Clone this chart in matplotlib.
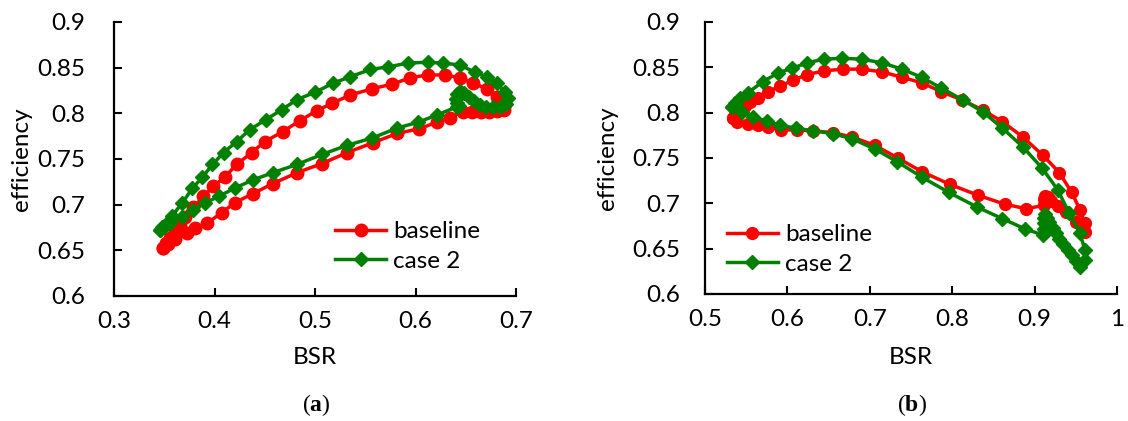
import matplotlib
matplotlib.use("Agg")
import matplotlib.pyplot as plt

# ---------------- data (a) ----------------
a_base_x = [0.349, 0.352, 0.356, 0.361, 0.366, 0.371, 0.379, 0.389, 0.399, 0.410, 0.422, 0.437,
            0.450, 0.468, 0.485, 0.502, 0.517, 0.535, 0.557, 0.577, 0.595, 0.612, 0.629, 0.644,
            0.657, 0.671, 0.681, 0.689, 0.688, 0.681, 0.673, 0.665, 0.656, 0.647, 0.634, 0.621,
            0.603, 0.582, 0.558, 0.532, 0.507, 0.482, 0.458, 0.438, 0.420, 0.407, 0.393, 0.381,
            0.373, 0.361, 0.354, 0.349]
a_base_y = [0.653, 0.658, 0.664, 0.671, 0.678, 0.686, 0.697, 0.709, 0.720, 0.730, 0.744, 0.757,
            0.769, 0.780, 0.792, 0.803, 0.811, 0.820, 0.827, 0.832, 0.839, 0.842, 0.842, 0.839,
            0.833, 0.827, 0.818, 0.810, 0.804, 0.803, 0.802, 0.802, 0.802, 0.802, 0.795, 0.790,
            0.783, 0.778, 0.768, 0.757, 0.745, 0.735, 0.723, 0.712, 0.702, 0.691, 0.680, 0.674,
            0.669, 0.662, 0.657, 0.653]

a_case_x = [0.346, 0.350, 0.354, 0.358, 0.368, 0.378, 0.388, 0.398, 0.409, 0.422, 0.435, 0.451,
            0.467, 0.482, 0.500, 0.518, 0.535, 0.555, 0.573, 0.593, 0.612, 0.627, 0.644, 0.659,
            0.671, 0.681, 0.689, 0.692, 0.690, 0.684, 0.677, 0.670, 0.664, 0.658, 0.653, 0.648,
            0.644, 0.641, 0.640, 0.641, 0.643, 0.641, 0.621, 0.602, 0.582, 0.557, 0.532, 0.507,
            0.482, 0.458, 0.438, 0.420, 0.404, 0.391, 0.379, 0.368, 0.356, 0.348, 0.346]
a_case_y = [0.672, 0.676, 0.681, 0.688, 0.702, 0.718, 0.730, 0.744, 0.757, 0.769, 0.782, 0.793,
            0.804, 0.815, 0.823, 0.833, 0.840, 0.848, 0.851, 0.855, 0.856, 0.855, 0.853, 0.845,
            0.840, 0.833, 0.823, 0.817, 0.810, 0.807, 0.807, 0.807, 0.809, 0.813, 0.818, 0.822,
            0.824, 0.821, 0.816, 0.811, 0.808, 0.807, 0.798, 0.790, 0.784, 0.773, 0.765, 0.755,
            0.744, 0.735, 0.727, 0.718, 0.709, 0.702, 0.694, 0.687, 0.680, 0.675, 0.672]

# ---------------- data (b) ----------------
b_base_x = [0.534, 0.537, 0.542, 0.548, 0.555, 0.564, 0.576, 0.591, 0.607, 0.624, 0.644, 0.667,
            0.690, 0.715, 0.739, 0.763, 0.787, 0.812, 0.837, 0.861, 0.886, 0.910, 0.930, 0.945,
            0.955, 0.961, 0.961, 0.950, 0.938, 0.928, 0.920, 0.916, 0.913, 0.912, 0.913, 0.912,
            0.890, 0.864, 0.831, 0.797, 0.763, 0.734, 0.706, 0.679, 0.655, 0.631, 0.612, 0.592,
            0.576, 0.564, 0.552, 0.539, 0.534]
b_base_y = [0.794, 0.798, 0.803, 0.807, 0.812, 0.816, 0.823, 0.829, 0.836, 0.842, 0.846, 0.848,
            0.848, 0.845, 0.839, 0.833, 0.823, 0.814, 0.803, 0.790, 0.773, 0.753, 0.734, 0.712,
            0.693, 0.678, 0.668, 0.679, 0.690, 0.697, 0.703, 0.707, 0.708, 0.705, 0.701, 0.698,
            0.694, 0.699, 0.709, 0.721, 0.735, 0.750, 0.764, 0.773, 0.778, 0.780, 0.781, 0.781,
            0.784, 0.786, 0.788, 0.790, 0.794]

b_case_x = [0.533, 0.537, 0.542, 0.552, 0.570, 0.589, 0.606, 0.624, 0.644, 0.666, 0.690, 0.715,
            0.739, 0.763, 0.787, 0.813, 0.837, 0.861, 0.886, 0.909, 0.928, 0.942, 0.955, 0.961,
            0.961, 0.955, 0.950, 0.945, 0.940, 0.935, 0.930, 0.926, 0.922, 0.918, 0.915, 0.913,
            0.912, 0.912, 0.912, 0.911, 0.910, 0.888, 0.861, 0.830, 0.796, 0.763, 0.733, 0.706,
            0.679, 0.655, 0.631, 0.610, 0.591, 0.575, 0.558, 0.545, 0.533]
b_case_y = [0.806, 0.811, 0.816, 0.822, 0.834, 0.844, 0.849, 0.855, 0.859, 0.860, 0.859, 0.855,
            0.848, 0.839, 0.827, 0.814, 0.801, 0.783, 0.762, 0.739, 0.715, 0.689, 0.667, 0.649,
            0.638, 0.630, 0.636, 0.643, 0.649, 0.655, 0.661, 0.667, 0.673, 0.679, 0.684, 0.688,
            0.684, 0.678, 0.672, 0.667, 0.665, 0.672, 0.683, 0.696, 0.712, 0.729, 0.746, 0.760,
            0.771, 0.777, 0.780, 0.783, 0.786, 0.791, 0.795, 0.801, 0.806]

labels = ["baseline", "case 2"]
colors = ["#FF0000", "#008000"]
font = "Lato"
FS = 17.5

plt.rcParams["font.family"] = [font, "DejaVu Sans"]
plt.rcParams["mathtext.fontset"] = "custom"
plt.rcParams["mathtext.bf"] = "Liberation Serif:bold"
plt.rcParams["mathtext.rm"] = "Liberation Serif"

fig = plt.figure(figsize=(11.28, 4.21), dpi=100)
axa = fig.add_axes([114 / 1128, 1 - 296 / 421, 402 / 1128, 274 / 421])
axb = fig.add_axes([705 / 1128, 1 - 294 / 421, 412 / 1128, 272 / 421])


def style(ax, xlim, xticks, xticklabels, leg_anchor, xlab_y, ylab_x, ypad):
    ax.set_xlim(*xlim)
    ax.set_ylim(0.6, 0.9)
    ax.set_xticks(xticks)
    ax.set_xticklabels(xticklabels)
    yt = [0.6, 0.65, 0.7, 0.75, 0.8, 0.85, 0.9]
    ax.set_yticks(yt)
    ax.set_yticklabels(["0.6", "0.65", "0.7", "0.75", "0.8", "0.85", "0.9"])
    for s in ["top", "right"]:
        ax.spines[s].set_visible(False)
    for s in ["left", "bottom"]:
        ax.spines[s].set_linewidth(1.6)
        ax.spines[s].set_color("black")
    ax.tick_params(direction="in", length=6, width=1.5, labelsize=FS, colors="black")
    ax.tick_params(axis="x", pad=11)
    ax.tick_params(axis="y", pad=ypad)
    ax.set_xlabel("BSR", fontsize=FS)
    ax.set_ylabel("efficiency", fontsize=FS)
    ax.xaxis.set_label_coords(0.5, xlab_y)
    ax.yaxis.set_label_coords(ylab_x, 0.5)
    ax.legend(loc="center left", bbox_to_anchor=leg_anchor, frameon=False,
              fontsize=FS, handlelength=2.1, handletextpad=0.3,
              labelspacing=0.35, borderaxespad=0, borderpad=0)


axa.plot(a_base_x, a_base_y, color=colors[0], lw=2.5, marker="o", ms=9, label=labels[0],
         clip_on=False)
axa.plot(a_case_x, a_case_y, color=colors[1], lw=2.5, marker="D", ms=7.5, label=labels[1],
         clip_on=False)
style(axa, (0.3, 0.7), [0.3, 0.4, 0.5, 0.6, 0.7], ["0.3", "0.4", "0.5", "0.6", "0.7"],
      (0.55, 0.181), -0.186, -0.204, 20.5)

axb.plot(b_base_x, b_base_y, color=colors[0], lw=2.5, marker="o", ms=8.5, label=labels[0],
         clip_on=False)
axb.plot(b_case_x, b_case_y, color=colors[1], lw=2.5, marker="D", ms=7, label=labels[1],
         clip_on=False)
style(axb, (0.5, 1.0), [0.5, 0.6, 0.7, 0.8, 0.9, 1.0], ["0.5", "0.6", "0.7", "0.8", "0.9", "1"],
      (0.053, 0.164), -0.195, -0.211, 18)

fig.text(316 / 1128, 1 - 405 / 421, r"($\mathbf{a}$)", ha="center", va="center",
         fontsize=17, family="Liberation Serif")
fig.text(912 / 1128, 1 - 405 / 421, r"($\mathbf{b}$)", ha="center", va="center",
         fontsize=17, family="Liberation Serif")

fig.savefig("out.png", dpi=100)
